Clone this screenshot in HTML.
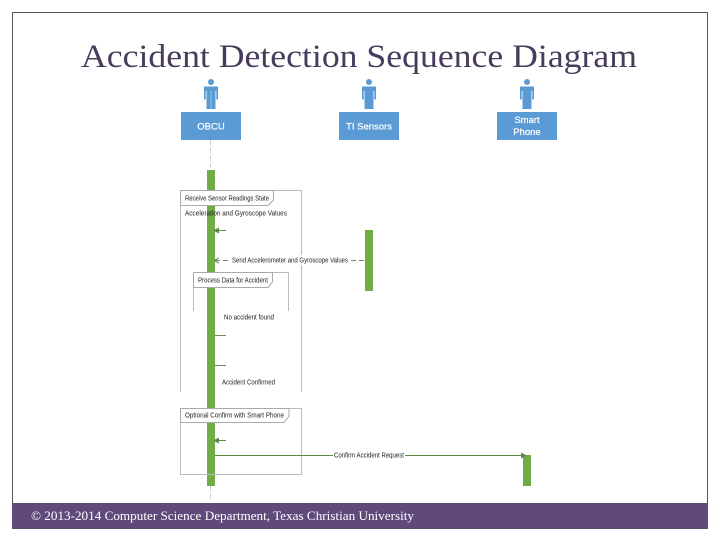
<!DOCTYPE html>
<html><head><meta charset="utf-8"><style>
html,body{margin:0;padding:0;background:#fff;width:720px;height:540px;overflow:hidden}
svg{display:block}
.s{font-family:"Liberation Sans",sans-serif;font-size:7px;fill:#222;filter:url(#b)}
.a{font-family:"Liberation Sans",sans-serif;font-size:9.5px;fill:#fff;stroke:#fff;stroke-width:.2;text-anchor:middle;filter:url(#b)}
</style></head><body>
<svg width="720" height="540" viewBox="0 0 720 540" xmlns="http://www.w3.org/2000/svg">
<defs>
<filter id="b" x="-5%" y="-30%" width="110%" height="160%"><feGaussianBlur stdDeviation="0.3"/></filter>
<g id="p" fill="#5b9bd5">
<circle cx="0" cy="-26" r="3"/>
<path d="M-7,-21.5H7V-8.5H5.3V-17H4.5V1H-4.5V-17H-5.3V-8.5H-7Z"/>
</g>
</defs>
<rect x="12.5" y="12.5" width="695" height="516" fill="#fff" stroke="#555" stroke-width="1"/>
<text x="81" y="67" font-family="'Liberation Serif',serif" font-size="33" fill="#483c5c" textLength="556" lengthAdjust="spacingAndGlyphs">Accident Detection Sequence Diagram</text>

<use href="#p" x="211" y="108"/>
<use href="#p" x="369" y="108"/>
<use href="#p" x="527" y="108"/>
<line x1="211" y1="91" x2="211" y2="109" stroke="#a8cbe8" stroke-width="0.8"/>
<rect x="181" y="112" width="60" height="28" fill="#5b9bd5"/>
<rect x="339" y="112" width="60" height="28" fill="#5b9bd5"/>
<rect x="497" y="112" width="60" height="28" fill="#5b9bd5"/>
<text class="a" x="211" y="129.5">OBCU</text>
<text class="a" x="369" y="129.5">TI Sensors</text>
<text class="a" x="527" y="123">Smart</text>
<text class="a" x="527" y="135">Phone</text>

<line x1="210.5" y1="140" x2="210.5" y2="168" stroke="#ccc" stroke-dasharray="5 3"/>
<line x1="210.5" y1="486" x2="210.5" y2="499" stroke="#ccc" stroke-dasharray="5 3"/>

<rect x="207" y="170" width="8" height="316" fill="#70ad47"/>
<rect x="365" y="230" width="8" height="61" fill="#70ad47"/>
<rect x="523" y="455" width="8" height="31" fill="#70ad47"/>

<!-- frame 1 -->
<path d="M180.5,392V190.5H301.5V392" fill="none" stroke="#bbb"/>
<path d="M180.5,205.5H268L273.5,200V190.5H180.5Z" fill="#fff" stroke="#aaa"/>
<text class="s" x="185" y="200.5" textLength="84" lengthAdjust="spacingAndGlyphs">Receive Sensor Readings State</text>
<text class="s" x="185" y="215.5" textLength="102" lengthAdjust="spacingAndGlyphs">Acceleration and Gyroscope Values</text>

<path d="M226,230.5H215" stroke="#5f8a45" stroke-width="1"/>
<path d="M213,230.5l6,-3v6z" fill="#5f8a45"/>

<line x1="215" y1="260.5" x2="365" y2="260.5" stroke="#6a8a58" stroke-dasharray="5 3"/>
<rect x="231" y="255" width="118" height="10" fill="#fff"/>
<text class="s" x="232" y="262.5" textLength="116" lengthAdjust="spacingAndGlyphs">Send Accelerometer and Gyroscope Values</text>
<path d="M214,260.5l5,-2.5M214,260.5l5,2.5" stroke="#6a8a58" fill="none"/>

<!-- frame 2 -->
<path d="M193.5,311V272.5H288.5V311" fill="none" stroke="#bbb"/>
<path d="M193.5,287.5H268L272.5,282V272.5H193.5Z" fill="#fff" stroke="#aaa"/>
<text class="s" x="198" y="282.5" textLength="70" lengthAdjust="spacingAndGlyphs">Process Data for Accident</text>

<text class="s" x="224" y="319.5" textLength="50" lengthAdjust="spacingAndGlyphs">No accident found</text>
<line x1="215" y1="335.5" x2="226" y2="335.5" stroke="#6a8a58"/>
<line x1="215" y1="365.5" x2="226" y2="365.5" stroke="#6a8a58"/>
<text class="s" x="222" y="384.5" textLength="53" lengthAdjust="spacingAndGlyphs">Accident Confirmed</text>

<!-- frame 3 -->
<rect x="180.5" y="408.5" width="121" height="66" fill="none" stroke="#bbb"/>
<path d="M180.5,422.5H284L289,416V408.5H180.5Z" fill="#fff" stroke="#aaa"/>
<text class="s" x="185" y="417.5" textLength="99" lengthAdjust="spacingAndGlyphs">Optional Confirm with Smart Phone</text>

<path d="M226,440.5H215" stroke="#5f8a45"/>
<path d="M213,440.5l6,-3v6z" fill="#5f8a45"/>
<line x1="215" y1="455.5" x2="523" y2="455.5" stroke="#5f8a45"/>
<path d="M527,455.5l-6,-3v6z" fill="#5f8a45"/>
<rect x="333" y="451" width="72" height="9" fill="#fff"/>
<text class="s" x="334" y="457.5" textLength="70" lengthAdjust="spacingAndGlyphs">Confirm Accident Request</text>

<rect x="12" y="503" width="696" height="25.5" fill="#604a7b"/>
<text x="31" y="520" font-family="'Liberation Serif',serif" font-size="13" fill="#fff" textLength="383" lengthAdjust="spacingAndGlyphs">© 2013-2014 Computer Science Department, Texas Christian University</text>
</svg>
</body></html>
